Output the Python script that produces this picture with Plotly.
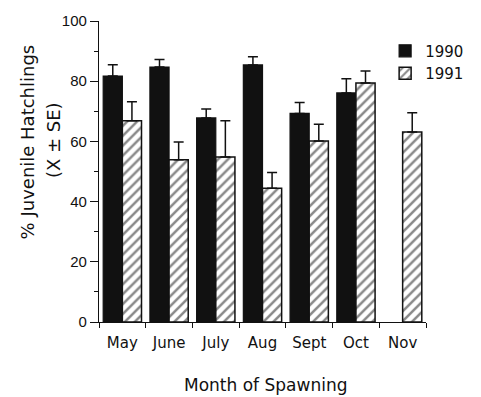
import plotly.graph_objects as go

# Percentage of juvenile hatchlings by spawning month (mean and SE)
months = ["May", "June", "July", "Aug", "Sept", "Oct", "Nov"]
mean_1990 = [81.7, 84.7, 67.8, 85.4, 69.3, 76.1, None]
se_1990 = [3.8, 2.5, 3.0, 2.7, 3.6, 4.7, None]
mean_1991 = [66.9, 53.9, 54.8, 44.4, 60.1, 79.4, 63.1]
se_1991 = [6.3, 5.9, 12.1, 5.3, 5.6, 4.0, 6.4]

y_ticks = [0, 20, 40, 60, 80, 100]

SANS = "DejaVu Sans"
ARIAL = "Liberation Sans, Arial"
INK = "#111111"

fig = go.Figure()

fig.add_trace(go.Bar(
    name="1990", x=months, y=mean_1990,
    marker=dict(color=INK, line=dict(color=INK, width=1.2)),
    error_y=dict(type="data", symmetric=False, array=se_1990,
                 arrayminus=[0] * len(se_1990), color=INK,
                 thickness=1.5, width=5),
))
fig.add_trace(go.Bar(
    name="1991", x=months, y=mean_1991,
    marker=dict(color="white", line=dict(color=INK, width=1.5),
                pattern=dict(shape="/", size=7, solidity=0.36,
                             fgcolor=INK, bgcolor="white")),
    error_y=dict(type="data", symmetric=False, array=se_1991,
                 arrayminus=[0] * len(se_1991), color=INK,
                 thickness=1.5, width=5),
))

fig.update_layout(
    width=481, height=397,
    margin=dict(l=99, r=38, t=17, b=75),
    paper_bgcolor="white", plot_bgcolor="white",
    barmode="group", bargap=0.18, bargroupgap=0,
    font=dict(family=SANS, size=14, color=INK),
    showlegend=True,
    legend=dict(x=0.875, y=0.955, xanchor="left", yanchor="top",
                font=dict(family=SANS, size=15, color=INK),
                bgcolor="rgba(0,0,0,0)", tracegroupgap=0,
                itemclick=False),
    xaxis=dict(
        type="category", showline=True, linecolor=INK, linewidth=1.2,
        ticks="outside", tickson="boundaries", ticklen=5, tickwidth=1.2,
        tickcolor=INK, showgrid=False, zeroline=False,
        tickfont=dict(family=SANS, size=15, color=INK),
        ticklabelstandoff=7,
    ),
    yaxis=dict(
        range=[0, 100], tickvals=y_ticks, showline=True, linecolor=INK,
        linewidth=1.2, ticks="outside", ticklen=8, tickwidth=1.2,
        tickcolor=INK, showgrid=False, zeroline=False,
        tickfont=dict(family=ARIAL, size=15, color=INK),
        minor=dict(dtick=10, ticks="outside", ticklen=4, tickwidth=1.2,
                   tickcolor=INK, showgrid=False),
    ),
    annotations=[
        dict(text="Month of Spawning", xref="paper", yref="paper",
             x=0.51, y=-0.21, xanchor="center", yanchor="middle",
             showarrow=False, font=dict(family=SANS, size=17, color=INK)),
        dict(text="% Juvenile Hatchlings", xref="paper", yref="paper",
             x=-0.219, y=0.598, xanchor="center", yanchor="middle",
             textangle=-90, showarrow=False,
             font=dict(family=SANS, size=18, color=INK)),
        dict(text="(X ± SE)", xref="paper", yref="paper",
             x=-0.137, y=0.605, xanchor="center", yanchor="middle",
             textangle=-90, showarrow=False,
             font=dict(family=SANS, size=18, color=INK)),
    ],
)

fig.write_html("out.html")
